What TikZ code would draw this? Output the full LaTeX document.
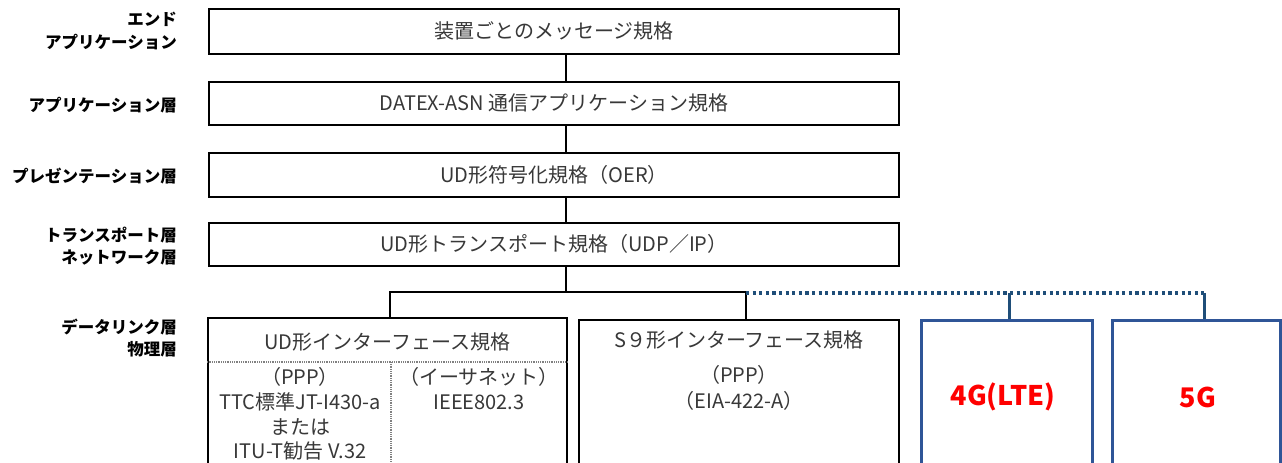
\documentclass[tikz,border=0pt]{standalone}
\usepackage{fontspec}
\setmainfont{Noto Sans CJK JP}
\begin{document}
\begin{tikzpicture}[x=1pt,y=-1pt,
  box/.style={draw=black,line width=2.5pt,inner sep=0pt},
  bbox/.style={draw=blueline,line width=3pt,inner sep=0pt},
  btxt/.style={font=\fontsize{20}{25}\selectfont,text=black!78,inner sep=0pt},
  lbl/.style={font=\fontsize{16.5}{22.5}\selectfont\bfseries,anchor=east,align=right,inner sep=0pt},
  conn/.style={draw=black,line width=2.5pt},
  bconn/.style={draw=bluecon,line width=3pt},
  gdiv/.style={draw=black!50,line width=2.2pt,dash pattern=on 1pt off 0.8pt},
  gtxt/.style={font=\fontsize{27}{30}\selectfont\bfseries,text=red,inner sep=0pt}]
\definecolor{blueline}{RGB}{47,85,151}
\definecolor{bluecon}{RGB}{31,78,121}
\useasboundingbox (0,0) rectangle (1282,463);
\clip (0,0) rectangle (1282,463);
\fill[white] (0,0) rectangle (1282,463);
% left labels
\node[lbl] (l1) at (177,31) {エンド\\アプリケーション};
\node[lbl] (l2) at (177,105) {アプリケーション層};
\node[lbl] (l3) at (177,176) {プレゼンテーション層};
\node[lbl] (l4) at (177,246) {トランスポート層\\ネットワーク層};
\node[lbl] (l5) at (177,338) {データリンク層\\物理層};
% stacked boxes
\coordinate (spine) at (566,0);
\node[box,minimum width=690pt,minimum height=45pt] (b1) at (554,31.5) {};
\node[btxt] (t1) at (554,31) {装置ごとのメッセージ規格};
\node[box,minimum width=690pt,minimum height=43pt] (b2) at (554,103.5) {};
\node[btxt] (t2) at (554,103) {DATEX-ASN 通信アプリケーション規格};
\node[box,minimum width=690pt,minimum height=44pt] (b3) at (554,175) {};
\node[btxt] (t3) at (554,175) {UD形符号化規格（OER）};
\node[box,minimum width=690pt,minimum height=43pt] (b4) at (554,244.5) {};
\node[btxt] (t4) at (554,244) {UD形トランスポート規格（UDP／IP）};
\draw[conn] (b1.south -| spine) -- (b2.north -| spine);
\draw[conn] (b2.south -| spine) -- (b3.north -| spine);
\draw[conn] (b3.south -| spine) -- (b4.north -| spine);
% bottom boxes
\node[box,minimum width=359pt,minimum height=170pt] (ud) at (387.5,403) {};
\node[box,minimum width=320pt,minimum height=170pt] (s9) at (739,405) {};
\node[bbox,minimum width=171pt,minimum height=170pt] (g4) at (1006.5,405) {};
\node[bbox,minimum width=168pt,minimum height=170pt] (g5) at (1196,405) {};
% branch connectors
\coordinate (jn) at (566,292);
\coordinate (udtop) at (390,292);
\coordinate (s9top) at (746,292);
\coordinate (g4top) at (1009,293);
\coordinate (g5top) at (1204,293);
\draw[conn] (b4.south -| spine) -- (jn);
\draw[conn] (udtop |- ud.north) -- (udtop) -- (s9top) -- (s9top |- s9.north);
\draw[draw=bluecon,line width=3.2pt,dash pattern=on 3.2pt off 3.4pt] (s9top) ++(0,1) -- (g5top);
\draw[bconn] (g4top) -- (g4top |- g4.north);
\draw[bconn] (g5top) -- (g5top |- g5.north);
% UD box interior
\coordinate (udsep) at (0,362);
\coordinate (udcol) at (391,0);
\draw[gdiv] (ud.west |- udsep) -- (ud.east |- udsep);
\draw[gdiv,line width=1.5pt] (udcol |- udsep) -- (udcol |- ud.south);
\node[btxt] (udh) at (387.5,342) {UD形インターフェース規格};
\node[btxt] (u1) at (300,377) {（PPP）};
\node[btxt] (u2) at (300,402) {TTC標準JT-I430-a};
\node[btxt] (u3) at (300,427) {または};
\node[btxt] (u4) at (300,451) {ITU-T勧告 V.32};
\node[btxt] (u5) at (479,377) {（イーサネット）};
\node[btxt] (u6) at (479,402) {IEEE802.3};
% S9 box interior
\node[btxt] (s9h) at (739,340) {S９形インターフェース規格};
\node[btxt] (s91) at (739,375) {（PPP）};
\node[btxt] (s92) at (739,401) {（EIA-422-A）};
% 4G / 5G
\node[gtxt] (g4t) at (1003,397) {4G(LTE)};
\node[gtxt] (g5t) at (1198,397) {5G};
\end{tikzpicture}
\end{document}
